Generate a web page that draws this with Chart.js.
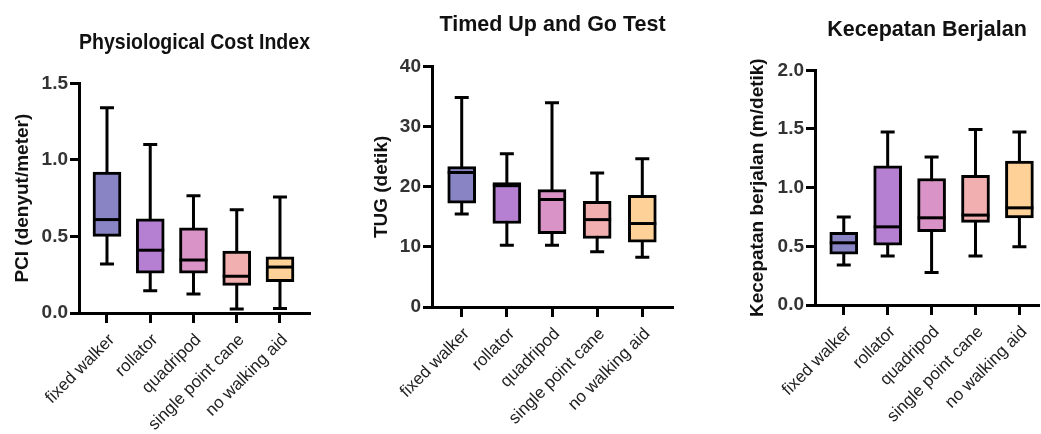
<!DOCTYPE html>
<html>
<head>
<meta charset="utf-8">
<script src="https://cdn.jsdelivr.net/npm/chart.js@4.4.0/dist/chart.umd.min.js"></script>
<style>
    body { margin: 0; background: #fff; }
    #wrap { position: relative; width: 1041px; height: 434px; overflow: hidden; }
    canvas { position: absolute; top: 0; }
</style>
</head>
<body>
<div id="wrap">
    <canvas id="chartPCI" width="340" height="434" style="left:0px"></canvas>
    <canvas id="chartTUG" width="350" height="434" style="left:340px"></canvas>
    <canvas id="chartSpeed" width="351" height="434" style="left:690px"></canvas>
</div>
<script>
// ========================================
// DATA
// ========================================
const categories = ['fixed walker', 'rollator', 'quadripod', 'single point cane', 'no walking aid'];
const boxColors = ['#8985C5', '#B580D1', '#DA93C6', '#F2AFAF', '#FDD197'];

// Physiological Cost Index
const pciMin = [0.32, 0.145, 0.124, 0.026, 0.03];
const pciQ1 = [0.50, 0.26, 0.26, 0.18, 0.204];
const pciMedian = [0.61, 0.41, 0.346, 0.24, 0.30];
const pciQ3 = [0.92, 0.615, 0.556, 0.405, 0.367];
const pciMax = [1.34, 1.10, 0.765, 0.674, 0.757];

// Timed Up and Go Test
const tugMin = [15.5, 10.3, 10.3, 9.2, 8.3];
const tugQ1 = [17.3, 13.9, 12.2, 11.4, 10.8];
const tugMedian = [22.4, 20.2, 17.9, 14.55, 13.9];
const tugQ3 = [23.4, 20.7, 19.55, 17.6, 18.6];
const tugMax = [34.9, 25.5, 34.0, 22.3, 24.7];

// Kecepatan Berjalan
const speedMin = [0.34, 0.417, 0.278, 0.417, 0.496];
const speedQ1 = [0.434, 0.51, 0.624, 0.704, 0.743];
const speedMedian = [0.53, 0.666, 0.743, 0.766, 0.828];
const speedQ3 = [0.62, 1.186, 1.078, 1.106, 1.226];
const speedMax = [0.75, 1.475, 1.262, 1.495, 1.475];

// ========================================
// PLUGIN: whiskers + median
// ========================================
const boxplotPlugin = {
    id: 'boxplotPlugin',
    beforeDatasetsDraw(chart) {
        const ctx = chart.ctx;
        const x = chart.scales.x;
        const y = chart.scales.y;
        const st = chart.data.datasets[0].stats;
        ctx.save();
        ctx.strokeStyle = '#000';
        ctx.lineWidth = 3;
        st.min.forEach((v, i) => {
            const px = x.getPixelForValue(i);
            const top = y.getPixelForValue(st.max[i]);
            const bot = y.getPixelForValue(st.min[i]);
            ctx.beginPath();
            ctx.moveTo(px, top);
            ctx.lineTo(px, bot);
            ctx.moveTo(px - 7, top);
            ctx.lineTo(px + 7, top);
            ctx.moveTo(px - 7, bot);
            ctx.lineTo(px + 7, bot);
            ctx.stroke();
        });
        ctx.restore();
    },
    afterDatasetsDraw(chart) {
        const ctx = chart.ctx;
        const y = chart.scales.y;
        const st = chart.data.datasets[0].stats;
        const bars = chart.getDatasetMeta(0).data;
        ctx.save();
        ctx.strokeStyle = '#000';
        ctx.lineWidth = 3;
        st.median.forEach((v, i) => {
            const b = bars[i];
            const py = y.getPixelForValue(v);
            ctx.beginPath();
            ctx.moveTo(b.x - b.width / 2, py);
            ctx.lineTo(b.x + b.width / 2, py);
            ctx.stroke();
        });
        ctx.restore();
    }
};

// ========================================
// CHARTS
// ========================================
Chart.defaults.font.family = "'Liberation Sans', Arial, sans-serif";
Chart.defaults.color = '#222';

function criarPainel(id, p) {
    const stats = { min: p.min, q1: p.q1, median: p.median, q3: p.q3, max: p.max };
    return new Chart(document.getElementById(id), {
        type: 'bar',
        data: {
            datasets: [{
                data: categories.map((c, i) => ({ x: i, y: [p.q1[i], p.q3[i]] })),
                stats: stats,
                backgroundColor: boxColors,
                borderColor: '#000',
                borderWidth: 3,
                borderSkipped: false,
                barThickness: 28
            }]
        },
        options: {
            responsive: false,
            animation: false,
            layout: { padding: { left: 0, right: p.padRight, top: 0, bottom: 0 } },
            plugins: {
                legend: { display: false },
                tooltip: { enabled: false },
                title: {
                    display: true,
                    text: p.title,
                    fullSize: false,
                    color: '#111',
                    font: { size: 21.5, weight: 'bold' },
                    padding: { top: p.titleTop, bottom: p.titleBottom }
                }
            },
            scales: {
                x: {
                    type: 'linear',
                    min: p.xMin,
                    max: p.xMax,
                    offset: false,
                    afterFit: s => { s.height = p.xHeight; },
                    border: { color: '#000', width: 3 },
                    grid: { drawOnChartArea: false, offset: false, tickLength: 10, tickWidth: 3, tickColor: '#000' },
                    ticks: {
                        stepSize: 1,
                        includeBounds: false,
                        autoSkip: false,
                        minRotation: 45,
                        maxRotation: 45,
                        padding: 7,
                        labelOffset: 5,
                        color: '#222',
                        font: { size: 17 },
                        callback: v => categories[v]
                    }
                },
                y: {
                    min: 0,
                    max: p.yMax,
                    afterFit: s => { s.width = p.yWidth; },
                    border: { color: '#000', width: 3 },
                    grid: { drawOnChartArea: false, tickLength: 9, tickWidth: 3, tickColor: '#000' },
                    ticks: {
                        stepSize: p.yStep,
                        padding: 2,
                        color: '#333',
                        font: { size: 19, weight: 'bold' },
                        callback: v => p.yDecimals ? v.toFixed(1) : v
                    },
                    title: {
                        display: true,
                        text: p.yTitle,
                        color: '#111',
                        font: { size: 19, weight: 'bold' },
                        padding: { top: p.yTitlePad, bottom: 0 }
                    }
                }
            }
        },
        plugins: [boxplotPlugin]
    });
}

document.addEventListener('DOMContentLoaded', function() {
    criarPainel('chartPCI', {
        title: 'Physiological Cost Index', yTitle: 'PCI (denyut/meter)',
        min: pciMin, q1: pciQ1, median: pciMedian, q3: pciQ3, max: pciMax,
        yMax: 1.5, yStep: 0.5, yDecimals: true,
        xMin: -0.647, xMax: 4.694,
        yWidth: 79, xHeight: 121, padRight: 30,
        titleTop: 30, titleBottom: 27.5, yTitlePad: 11
    });
    criarPainel('chartTUG', {
        title: 'Timed Up and Go Test', yTitle: 'TUG (detik)',
        min: tugMin, q1: tugQ1, median: tugMedian, q3: tugQ3, max: tugMax,
        yMax: 40, yStep: 10, yDecimals: false,
        xMin: -0.658, xMax: 4.68,
        yWidth: 92, xHeight: 127, padRight: 17,
        titleTop: 12, titleBottom: 29, yTitlePad: 30
    });
    criarPainel('chartSpeed', {
        title: 'Kecepatan Berjalan', yTitle: 'Kecepatan berjalan (m/detik)',
        min: speedMin, q1: speedQ1, median: speedMedian, q3: speedQ3, max: speedMax,
        yMax: 2.0, yStep: 0.5, yDecimals: true,
        xMin: -0.655, xMax: 4.45,
        yWidth: 125, xHeight: 129, padRight: 0,
        titleTop: 17, titleBottom: 27.5, yTitlePad: 56
    });
});
</script>
</body>
</html>
